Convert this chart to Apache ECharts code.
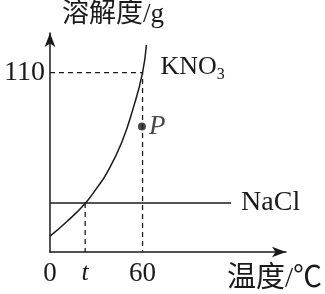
<!DOCTYPE html>
<html><head><meta charset="utf-8">
<script src="https://cdn.jsdelivr.net/npm/echarts@6/dist/echarts.min.js"></script>
<style>html,body{margin:0;padding:0;background:#fff}#c{width:325px;height:294px}</style>
</head><body><div id="c"></div>
<script>
// data
const tempT = 22.8;                 // temperature t (intersection)
const kno3X = [0, 11, 22.8, 30.4, 36.9, 46.6, 54.2, 60, 62.5];
const kno3Y = [9.7, 18.7, 29.8, 39.3, 48.5, 67.5, 89, 110, 127];
const naclX = [0, 117.4];
const naclY = [30, 30];
const pointP = [59.6, 77];
const xTicks = [0, tempT, 60];
const xTickLabels = ['0', 't', '60'];
const yTicks = [110];
const yTickLabels = ['110'];

const ink = '#1a1a1a';
const serif = '"Liberation Serif", "Noto Sans CJK SC", serif';

const chart = echarts.init(document.getElementById('c'));
chart.setOption({
  animation: false,
  grid: {left: 50, top: 33, right: 38, bottom: 40, containLabel: false},
  xAxis: {
    type: 'value', min: 0, max: 153,
    splitLine: {show: false},
    axisTick: {show: false},
    axisLine: {show: true, lineStyle: {color: ink, width: 1.5}, symbol: ['none', 'arrow'], symbolSize: [8, 14]},
    axisLabel: {
      customValues: xTicks, margin: 8, color: ink, fontFamily: serif, fontSize: 27,
      formatter: v => { const i = xTicks.indexOf(v); const s = xTickLabels[i]; return s === 't' ? '{i|t}' : s; },
      rich: {i: {fontStyle: 'italic', fontFamily: serif, fontSize: 26, color: ink, padding: [0, 0, 8, 0]}}
    },
    name: '温度/℃', nameLocation: 'end', nameGap: 36,
    nameTextStyle: {color: ink, fontFamily: serif, fontSize: 29, align: 'right', verticalAlign: 'top', padding: [13, 0, 0, 0]}
  },
  yAxis: {
    type: 'value', min: 0, max: 134.3,
    splitLine: {show: false},
    axisTick: {show: false},
    axisLine: {show: true, lineStyle: {color: ink, width: 1.5}, symbol: ['none', 'arrow'], symbolSize: [8, 14]},
    axisLabel: {
      customValues: yTicks, margin: 5, color: ink, fontFamily: serif, fontSize: 28,
      formatter: v => yTickLabels[yTicks.indexOf(v)]
    },
    name: '溶解度/g', nameLocation: 'end', nameGap: 18,
    nameTextStyle: {color: ink, fontFamily: serif, fontSize: 27, align: 'left', verticalAlign: 'middle', padding: [0, 0, 0, 12]}
  },
  series: [
    {
      type: 'line', smooth: 0.5, symbol: 'none', silent: true,
      data: kno3X.map((x, i) => [x, kno3Y[i]]),
      lineStyle: {color: ink, width: 1.5},
      endLabel: {show: true, formatter: '{a|KNO}{s|3}', offset: [6, 22], color: ink,
        rich: {a: {fontFamily: serif, fontSize: 26, color: ink}, s: {fontFamily: serif, fontSize: 16, color: ink, verticalAlign: 'bottom', padding: [16, 0, 0, 0]}}}
    },
    {
      type: 'line', symbol: 'none', silent: true,
      data: naclX.map((x, i) => [x, naclY[i]]),
      lineStyle: {color: ink, width: 1.5},
      endLabel: {show: true, formatter: 'NaCl', distance: 10, color: ink, fontFamily: serif, fontSize: 28}
    },
    {
      type: 'line', symbol: 'none', silent: true,
      data: [[0, 110], [60, 110], [60, 0]],
      lineStyle: {color: ink, width: 1.3, type: [5, 4]}
    },
    {
      type: 'line', symbol: 'none', silent: true,
      data: [[tempT, naclY[0]], [tempT, 0]],
      lineStyle: {color: ink, width: 1.3, type: [5, 4]}
    },
    {
      type: 'scatter', symbolSize: 8, silent: true,
      data: [pointP],
      itemStyle: {color: ink},
      label: {show: true, position: 'right', distance: 3, formatter: 'P', color: ink, fontFamily: serif, fontStyle: 'italic', fontSize: 27}
    }
  ]
});
</script></body></html>
